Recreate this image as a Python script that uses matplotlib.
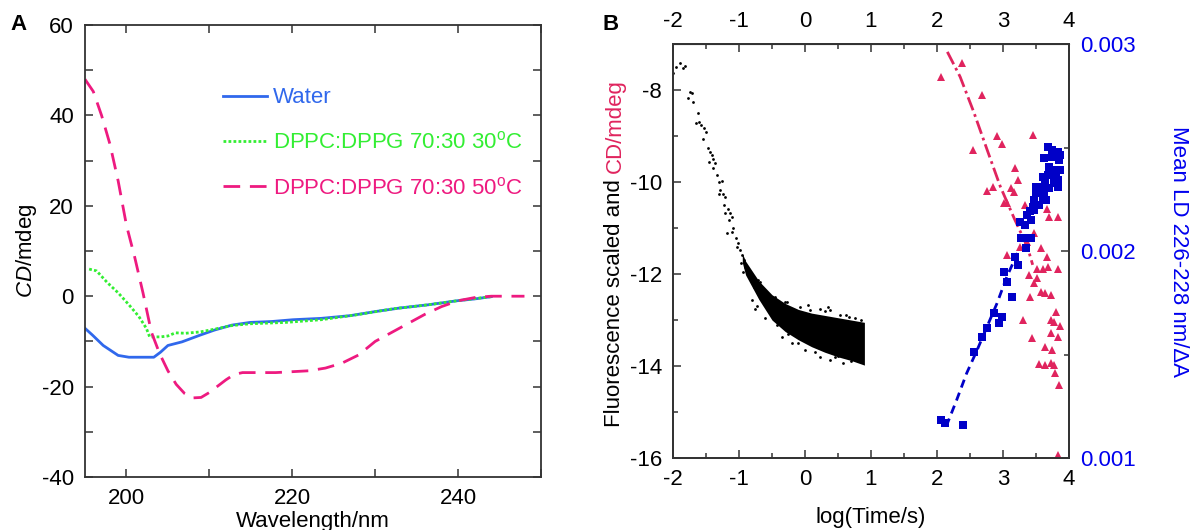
import numpy as np
import matplotlib
matplotlib.use("Agg")
import matplotlib.pyplot as plt
from matplotlib.ticker import MultipleLocator

plt.rcParams['font.family'] = ['Liberation Sans', 'DejaVu Sans']
plt.rcParams['mathtext.fontset'] = 'custom'
plt.rcParams['mathtext.rm'] = 'Liberation Sans'
plt.rcParams['mathtext.it'] = 'Liberation Sans:italic'
plt.rcParams['axes.unicode_minus'] = False
plt.rcParams['font.size'] = 16

#### Panel A data: CD spectra (wavelength in nm, CD in mdeg)
water_wl = [195, 195.9, 197.2, 199, 200.3, 202, 203.3, 204.1, 205, 206.7, 208.9, 210.6,
            212.7, 214.9, 217.5, 220.1, 223.5, 227, 230, 233, 236.4, 239.9, 242, 244]
water_cd = [-7.1, -8.6, -10.9, -13.1, -13.5, -13.5, -13.5, -12.4, -10.9, -10.1, -8.6, -7.5,
            -6.4, -5.8, -5.6, -5.2, -4.9, -4.3, -3.4, -2.6, -1.9, -1.0, -0.6, -0.1]

dppc30_wl = [195.5, 196.4, 197.7, 199, 200.3, 201.5, 202.4, 202.8, 204.1, 205, 205.9, 207.1,
             208.9, 210.6, 212.7, 214.9, 219.2, 223.5, 227.8, 232.1, 236.4, 239.9, 244]
dppc30_cd = [6.0, 5.6, 3.0, 0.75, -1.9, -4.5, -7.1, -9.0, -9.0, -8.8, -8.1, -8.2,
             -7.9, -7.3, -6.5, -6.1, -5.8, -5.2, -4.1, -2.8, -1.9, -1.0, -0.1]

dppc50_wl = [195, 196, 197, 198, 199, 200, 201, 202, 203, 204, 205, 206, 207, 208, 209, 210,
             211, 212, 213, 214, 216, 218, 220, 222, 224, 226, 228, 230, 232, 234, 236, 238,
             240, 242, 244, 246, 248]
dppc50_cd = [48, 45.3, 40, 33.7, 25.5, 15.7, 8.6, 0.7, -7.9, -12.7, -16.5, -19.5, -21.5, -22.5,
             -22.4, -21.3, -19.9, -18.5, -17.3, -16.9, -16.9, -16.9, -16.7, -16.5, -15.9, -14.8,
             -13.0, -10.0, -8.0, -6.0, -4.0, -2.3, -1.0, -0.3, 0, 0, 0]

#### Panel B data
# sparse fluorescence points (log time, scaled fluorescence)
fl_x = [-2.0, -1.95, -1.90, -1.85, -1.82, -1.74, -1.71, -1.78, -1.69, -1.62, -1.65, -1.60,
        -1.57, -1.53, -1.50, -1.54, -1.47, -1.44, -1.41, -1.39, -1.46, -1.36, -1.39, -1.34,
        -1.31, -1.26, -1.29, -1.25, -1.31, -1.21, -1.23, -1.16, -1.13, -1.21, -1.15, -1.11,
        -1.09, -1.18, -1.11, -1.05, -1.01, -1.03, -0.98, -0.96, -0.93, -0.97, -0.91, -0.88,
        -0.83, -0.94, -0.81, -0.71, -0.68, -0.78,
        # speckle around the dense band
        -0.68, -0.81, -0.76, -0.35, -0.20, 0.0, 0.23, 0.38, 0.58, -0.08, 0.08, 0.23, 0.38,
        0.53, 0.66, 0.76, -0.40, -0.28, -0.50, -0.60, -0.10, 0.15, 0.45, 0.70, -0.55,
        -0.45, 0.30, 0.62, 0.85, -0.72, -0.62, -0.42, -0.25, 0.05, 0.35, 0.80, -0.30, 0.50]
fl_y = [-7.64, -7.49, -7.42, -7.53, -7.48, -8.04, -8.07, -8.17, -8.25, -8.49, -8.71, -8.69,
        -8.76, -8.83, -8.91, -9.07, -9.25, -9.34, -9.41, -9.49, -9.56, -9.59, -9.70, -9.85,
        -9.99, -9.98, -10.17, -10.25, -10.25, -10.32, -10.5, -10.59, -10.68, -10.68, -10.83,
        -10.75, -11.0, -11.1, -11.08, -11.22, -11.33, -11.41, -11.48, -11.59, -11.70, -11.77,
        -11.84, -11.91, -11.98, -11.95, -12.13, -12.13, -12.24, -12.28,
        -12.17, -12.57, -12.75, -13.36, -13.51, -13.65, -13.8, -13.87, -13.94, -12.71, -12.78,
        -12.75, -12.78, -12.89, -12.93, -12.96, -12.64, -12.60, -12.57, -12.95, -13.5,
        -13.7, -13.8, -13.9, -12.45, -12.5, -12.8, -12.9, -13.0, -12.7, -12.35, -13.1,
        -13.3, -12.68, -12.72, -13.9, -12.6, -13.78]
# dense part of the fluorescence trace drawn as its envelope
band_x = [-0.95, -0.9, -0.7, -0.5, -0.3, -0.1, 0.1, 0.3, 0.5, 0.7, 0.9]
band_hi = [-11.55, -11.72, -12.15, -12.45, -12.64, -12.77, -12.85, -12.9, -12.95, -13.0, -13.05]
band_lo = [-11.75, -12.02, -12.55, -13.0, -13.25, -13.43, -13.58, -13.7, -13.8, -13.88, -13.98]

# CD triangles
cd_x = [2.06, 2.38, 2.68, 2.55, 2.91, 2.99, 3.45, 2.76, 2.85, 3.18, 3.22, 3.12, 3.17, 3.02,
        3.06, 3.34, 3.67, 3.69, 3.83, 3.47, 3.37, 3.26, 3.58, 3.06, 3.67, 3.83, 3.68, 3.60,
        3.52, 3.40, 3.51, 3.47, 3.58, 3.63, 3.73, 3.41, 3.31, 3.80, 3.73, 3.78, 3.73, 3.83,
        3.63, 3.75, 3.44, 3.55, 3.63, 3.72, 3.78, 3.79, 3.85, 3.83, 3.86]
cd_y = [-7.72, -7.42, -8.11, -9.30, -9.01, -9.17, -8.98, -10.19, -10.10, -9.70, -9.96, -10.14,
        -10.21, -10.45, -10.46, -10.50, -10.59, -10.75, -10.75, -11.10, -11.30, -11.41, -11.44,
        -11.59, -11.62, -11.88, -11.84, -11.90, -11.88, -12.02, -12.09, -12.20, -12.38, -12.42,
        -12.46, -12.49, -13.00, -12.82, -13.00, -13.04, -13.29, -13.36, -13.58, -13.65, -13.40,
        -13.96, -13.98, -13.94, -13.98, -14.16, -14.41, -15.93, -13.14]
cd_fit_x = [2.157, 2.35, 2.555, 2.76, 2.96, 3.17, 3.37, 3.45]
cd_fit_y = [-7.17, -7.71, -8.47, -9.30, -10.10, -10.79, -11.41, -11.80]

# LD squares (right axis)
ld_x = [2.06, 2.12, 2.39, 2.56, 2.68, 2.76, 2.86, 2.94, 2.99, 3.02, 3.06, 3.13, 3.18, 3.23,
        3.27, 3.32, 3.42, 3.35, 3.26, 3.33, 3.36, 3.41, 3.45, 3.47, 3.50, 3.55, 3.58, 3.60,
        3.62, 3.65, 3.63, 3.68, 3.70, 3.73, 3.77, 3.80, 3.83, 3.84, 3.86, 3.62, 3.68, 3.75,
        3.83, 3.86, 3.75, 3.42, 3.47, 3.55, 3.60, 3.50, 3.70, 3.78, 3.85]
ld_y = [0.001185, 0.001169, 0.001158, 0.001510, 0.001587, 0.001627, 0.001703, 0.001651,
        0.001681, 0.001901, 0.001848, 0.001780, 0.001973, 0.001932, 0.002062, 0.002062,
        0.002062, 0.002014, 0.002138, 0.002126, 0.002175, 0.002195, 0.002215, 0.002247,
        0.002279, 0.002287, 0.002311, 0.002360, 0.002271, 0.002247, 0.002344, 0.002368,
        0.002408, 0.002384, 0.002392, 0.002368, 0.002344, 0.002311, 0.002392, 0.002448,
        0.002504, 0.002488, 0.002480, 0.002464, 0.002456, 0.002150, 0.002199, 0.002223,
        0.002263, 0.002311, 0.002303, 0.002327, 0.002440]
ld_fit_x = [2.14, 2.30, 2.45, 2.61, 2.76, 2.91, 3.06, 3.22]
ld_fit_y = [0.001153, 0.001282, 0.001410, 0.001523, 0.001636, 0.001748, 0.001877, 0.001990]

# colours
blue_line = '#3068ec'
green_line = '#33ee33'
pink_line = '#ee1a80'
crimson = '#e0245e'
blue_sq = '#0000c8'
blue_txt = '#0000ee'
frame = '#333333'

fig = plt.figure(figsize=(11.92, 5.30), dpi=100)

#### Panel A
axA = fig.add_axes([0.0713, 0.100, 0.3826, 0.8528])
axA.plot(water_wl, water_cd, color=blue_line, lw=2.0, label='Water')
axA.plot(dppc30_wl, dppc30_cd, color=green_line, lw=2.0, dashes=(1, 0.8),
         label='DPPC:DPPG 70:30 30$^{\\mathrm{o}}$C')
axA.plot(dppc50_wl, dppc50_cd, color=pink_line, lw=2.0, dashes=(6, 3.5),
         label='DPPC:DPPG 70:30 50$^{\\mathrm{o}}$C')
axA.set_xlim(195, 250)
axA.set_ylim(-40, 60)
axA.xaxis.set_major_locator(MultipleLocator(20))
axA.xaxis.set_minor_locator(MultipleLocator(10))
axA.yaxis.set_major_locator(MultipleLocator(20))
axA.yaxis.set_minor_locator(MultipleLocator(10))
axA.tick_params(which='both', direction='in', top=True, right=True, length=6,
                width=1.1, color=frame, pad=8)
axA.set_xlabel('Wavelength/nm', labelpad=1)
axA.set_ylabel('$\\mathit{CD}$/mdeg', labelpad=2)
for s in axA.spines.values():
    s.set_color(frame)
    s.set_linewidth(1.3)
leg = axA.legend(loc='upper left', bbox_to_anchor=(0.303, 0.862), frameon=False,
                 borderpad=0, borderaxespad=0, handlelength=1.95, handletextpad=0.3,
                 labelspacing=1.05, labelcolor='linecolor', fontsize=16)

#### Panel B
axB = fig.add_axes([0.5646, 0.1358, 0.3322, 0.7811])
axB.fill_between(band_x, band_lo, band_hi, color='k', lw=0)
axB.scatter(fl_x, fl_y, s=4, color='k', linewidths=0)
axB.plot(cd_x, cd_y, '^', color=crimson, ms=6, mew=0, ls='none')
axB.plot(cd_fit_x, cd_fit_y, color=crimson, lw=2.0, dashes=(5, 1.5, 1, 1.5))
axB.set_xlim(-2, 4)
axB.set_ylim(-16, -7)
axB.xaxis.set_major_locator(MultipleLocator(1))
axB.xaxis.set_minor_locator(MultipleLocator(0.5))
axB.yaxis.set_major_locator(MultipleLocator(2))
axB.yaxis.set_minor_locator(MultipleLocator(1))
axB.tick_params(which='major', direction='in', length=6, width=1.1, color=frame, pad=8)
axB.tick_params(which='minor', direction='in', length=3.5, width=1.1, color=frame)
axB.tick_params(axis='x', which='both', top=True)
axB.set_xlabel('log(Time/s)', labelpad=12)
for s in axB.spines.values():
    s.set_color(frame)
    s.set_linewidth(1.3)

topB = axB.secondary_xaxis('top')
topB.xaxis.set_major_locator(MultipleLocator(1))
topB.xaxis.set_minor_locator(MultipleLocator(0.5))
topB.tick_params(which='both', direction='in', length=0, pad=9)

axR = axB.twinx()
axR.plot(ld_x, ld_y, 's', color=blue_sq, ms=6, mew=0, ls='none')
axR.plot(ld_fit_x, ld_fit_y, color=blue_sq, lw=2.0, dashes=(3, 2))
axR.set_ylim(0.001, 0.003)
axR.yaxis.set_major_locator(MultipleLocator(0.001))
axR.yaxis.set_minor_locator(MultipleLocator(0.0005))
axR.tick_params(which='major', direction='in', length=6, width=1.1, color=frame,
                labelcolor=blue_txt, pad=8)
axR.tick_params(which='minor', direction='in', length=3.5, width=1.1, color=frame)
axR.set_ylabel('Mean LD 226-228 nm/\u0394A', color=blue_txt, rotation=270, labelpad=38)
for s in axR.spines.values():
    s.set_color(frame)
    s.set_linewidth(1.3)

# two-colour y label for panel B
lab_x = 615 / 1192
lab_y0 = (530 - 427) / 530
t1 = fig.text(lab_x, lab_y0, 'Fluorescence scaled and ', rotation=90,
              ha='center', va='bottom', color='k', fontsize=16)
fig.canvas.draw()
bb = t1.get_window_extent().transformed(fig.transFigure.inverted())
fig.text(lab_x, bb.y1, 'CD/mdeg', rotation=90, ha='center', va='bottom',
         color=crimson, fontsize=16)

# panel letters
fig.text(10 / 1192, 1 - 25 / 530, 'A', fontsize=16, fontweight='bold', va='center')
fig.text(602 / 1192, 1 - 25 / 530, 'B', fontsize=16, fontweight='bold', va='center')

fig.savefig('out.png', dpi=100)
